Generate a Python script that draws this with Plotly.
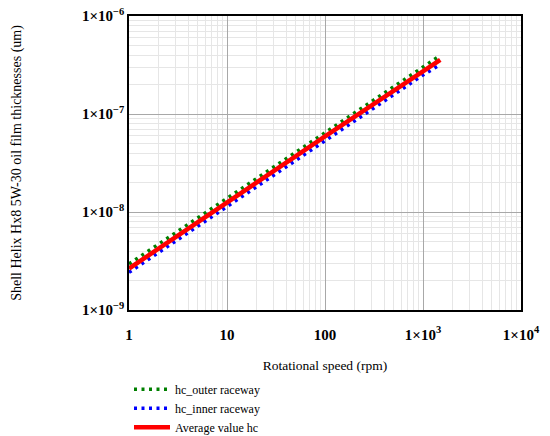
import plotly.graph_objects as go

# values (log-log)
speed_rpm = [1, 2, 5, 10, 20, 50, 100, 200, 500, 1000, 1500]
hc_outer = [2.95e-9, 4.7e-9, 8.7e-9, 1.38e-8, 2.2e-8, 4.1e-8, 6.5e-8, 1.04e-7, 1.92e-7, 3.05e-7, 3.95e-7]
hc_inner = [2.42e-9, 3.85e-9, 7.1e-9, 1.13e-8, 1.8e-8, 3.35e-8, 5.3e-8, 8.5e-8, 1.57e-7, 2.5e-7, 3.2e-7]
hc_avg = [2.65e-9, 4.25e-9, 7.9e-9, 1.25e-8, 2.0e-8, 3.7e-8, 5.9e-8, 9.4e-8, 1.74e-7, 2.77e-7, 3.57e-7]

x_tickvals = [1, 10, 100, 1000, 10000]
x_ticktext = ['1', '10', '100', '1×10<sup>3</sup>', '1×10<sup>4</sup>']
y_tickvals = [1e-9, 1e-8, 1e-7, 1e-6]
y_ticktext = ['1×10<sup>−9</sup>', '1×10<sup>−8</sup>', '1×10<sup>−7</sup>', '1×10<sup>−6</sup>']

FONT = 'Liberation Serif'

# minor grid at 2..9 of each decade
x_minor = [m * 10 ** k for k in range(0, 4) for m in range(2, 10)]
y_minor = [m * 10.0 ** k for k in range(-9, -6) for m in range(2, 10)]

fig = go.Figure()
fig.add_trace(go.Scatter(x=speed_rpm, y=hc_outer, mode='lines', name='hc_outer raceway',
                         line=dict(color='#008000', width=3.5, dash='3px,4.5px')))
fig.add_trace(go.Scatter(x=speed_rpm, y=hc_inner, mode='lines', name='hc_inner raceway',
                         line=dict(color='#0000ff', width=3.5, dash='3px,4.5px')))
fig.add_trace(go.Scatter(x=speed_rpm, y=hc_avg, mode='lines', name='Average value hc',
                         line=dict(color='#ff0000', width=4.5)))

grid_major = '#a8a8a8'
grid_minor = '#e6e6e6'

fig.update_xaxes(
    type='log', range=[0, 4], automargin=False,
    tickvals=x_tickvals, ticktext=['<b>%s</b>' % t for t in x_ticktext],
    tickfont=dict(family=FONT, size=15, color='black'),
    ticks='', ticklabelstandoff=10, ticklabeloverflow='allow',
    showgrid=True, gridcolor=grid_major, gridwidth=1,
    minor=dict(tickmode='array', tickvals=x_minor, showgrid=True, gridcolor=grid_minor, ticks=''),
    showline=True, linecolor='black', linewidth=1.5, mirror=True,
    zeroline=False,
    title=dict(text='Rotational speed (rpm)', font=dict(family=FONT, size=13.5, color='black'), standoff=19),
)
fig.update_yaxes(
    type='log', range=[-9, -6], automargin=False,
    tickvals=y_tickvals, ticktext=['<b>%s</b>' % t for t in y_ticktext],
    tickfont=dict(family=FONT, size=15, color='black'),
    ticks='', ticklabelstandoff=0, ticklabeloverflow='allow',
    showgrid=True, gridcolor=grid_major, gridwidth=1,
    minor=dict(tickmode='array', tickvals=y_minor, showgrid=True, gridcolor=grid_minor, ticks=''),
    showline=True, linecolor='black', linewidth=1.5, mirror=True,
    zeroline=False,
    title=dict(text='Shell Helix Hx8 5W-30 oil film thicknesses (um)',
               font=dict(family=FONT, size=14, color='black'), standoff=57),
)

fig.update_layout(
    width=550, height=436,
    margin=dict(l=129, r=29, t=16, b=126, autoexpand=False),
    paper_bgcolor='white', plot_bgcolor='white',
    font=dict(family=FONT, color='black'),
    showlegend=True,
    legend=dict(x=0.0, y=-0.22, xanchor='left', yanchor='top',
                font=dict(family=FONT, size=12, color='black'),
                itemwidth=36, tracegroupgap=0, bgcolor='rgba(0,0,0,0)'),
)

# drop the default page margin so the figure sits at the window corner
fig.write_html('out.html', config={'displayModeBar': False},
               post_script="document.body.style.margin='0';")
